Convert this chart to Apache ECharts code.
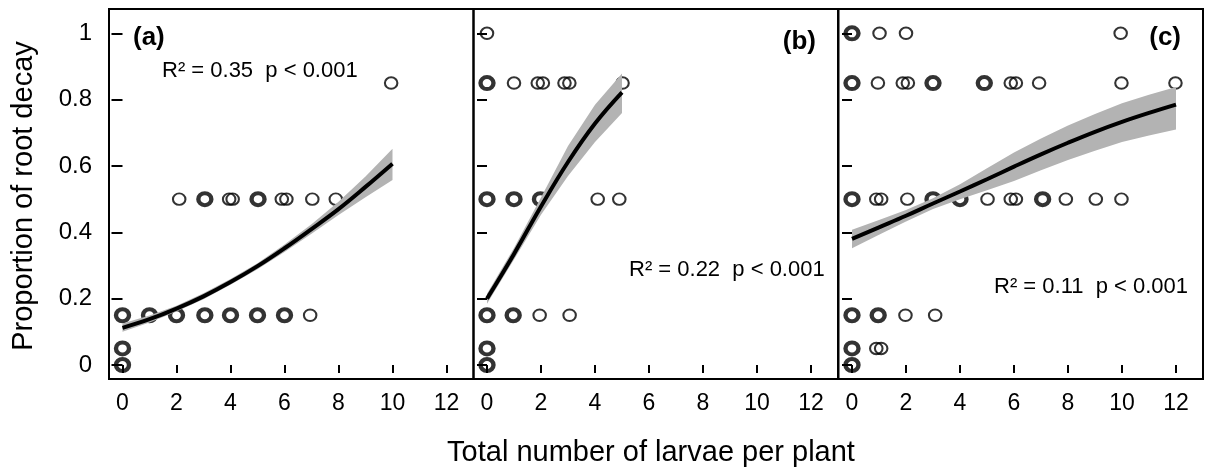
<!DOCTYPE html>
<html>
<head>
<meta charset="utf-8">
<script src="https://cdn.jsdelivr.net/npm/echarts@6/dist/echarts.min.js"></script>
<style>
  html, body { margin: 0; padding: 0; background: #fff; }
  #chart { width: 1207px; height: 473px; }
</style>
</head>
<body>
<div id="chart"></div>
<script>
// tick labels
var xTicks = [0, 2, 4, 6, 8, 10, 12];
var yTicks = [0, 0.2, 0.4, 0.6, 0.8, 1];
var yTickLabels = ['0', '0.2', '0.4', '0.6', '0.8', '1'];

// panel (a) observations: single circles and over-plotted (heavy) circles
var ptsA = [[2.1, 0.5], [3.95, 0.5], [4.08, 0.5], [5.9, 0.5], [6.07, 0.5], [7.03, 0.5], [7.9, 0.5],
  [6.95, 0.15], [9.95, 0.85]];
var ptsAHeavy = [[3.05, 0.5], [5.02, 0.5], [0, 0.15], [1, 0.15], [2, 0.15], [3.05, 0.15], [4, 0.15],
  [5, 0.15], [6, 0.15], [0, 0.05], [0, 0]];
// panel (a) fitted curve + confidence band
var fitXA = [0, 1, 2, 3, 4, 5, 6, 7, 8, 9, 10];
var fitA = [0.112, 0.138, 0.17, 0.207, 0.25, 0.298, 0.352, 0.41, 0.47, 0.537, 0.607];
var lowA = [0.10, 0.128, 0.161, 0.198, 0.242, 0.289, 0.341, 0.396, 0.452, 0.506, 0.558];
var upA = [0.125, 0.149, 0.179, 0.216, 0.259, 0.307, 0.363, 0.424, 0.492, 0.568, 0.652];

// panel (b)
var ptsB = [[0, 1], [1.0, 0.85], [1.88, 0.85], [2.07, 0.85], [2.87, 0.85], [3.05, 0.85], [5.02, 0.85],
  [4.1, 0.5], [4.9, 0.5], [1.95, 0.15], [3.06, 0.15]];
var ptsBHeavy = [[0, 0.85], [0, 0.5], [1.0, 0.5], [1.98, 0.5], [0, 0.15], [0.97, 0.15], [0, 0.05], [0, 0]];
var fitXB = [0, 1, 2, 3, 4, 5];
var fitB = [0.20, 0.335, 0.478, 0.612, 0.728, 0.822];
var lowB = [0.185, 0.318, 0.453, 0.57, 0.672, 0.76];
var upB = [0.215, 0.353, 0.505, 0.66, 0.785, 0.879];

// panel (c)
var ptsC = [[1.02, 1], [2.0, 1], [9.95, 1],
  [0.96, 0.85], [1.88, 0.85], [2.07, 0.85], [5.88, 0.85], [6.07, 0.85], [6.93, 0.85], [9.98, 0.85], [11.98, 0.85],
  [0.9, 0.5], [1.08, 0.5], [2.05, 0.5], [5.02, 0.5], [5.88, 0.5], [6.07, 0.5], [7.92, 0.5], [9.03, 0.5], [9.98, 0.5],
  [1.98, 0.15], [3.08, 0.15], [0.9, 0.05], [1.08, 0.05]];
var ptsCHeavy = [[0, 1], [0, 0.85], [3.0, 0.85], [4.9, 0.85], [0, 0.5], [3.0, 0.5], [4.0, 0.5], [7.06, 0.5],
  [0, 0.15], [0.97, 0.15], [0, 0.05], [0, 0]];
var fitXC = [0, 1, 2, 3, 4, 5, 6, 7, 8, 9, 10, 11, 12];
var fitC = [0.38, 0.415, 0.45, 0.487, 0.523, 0.56, 0.598, 0.635, 0.67, 0.703, 0.733, 0.76, 0.785];
var lowC = [0.352, 0.393, 0.433, 0.47, 0.50, 0.527, 0.555, 0.587, 0.618, 0.646, 0.672, 0.692, 0.71];
var upC = [0.408, 0.437, 0.467, 0.503, 0.545, 0.593, 0.641, 0.683, 0.722, 0.757, 0.789, 0.815, 0.838];

var FONT = 'Liberation Sans';
var BAND = '#b3b3b3';

var panels = [
  { left: 109, pts: ptsA, heavy: ptsAHeavy, fx: fitXA, fit: fitA, low: lowA, up: upA, labels: true },
  { left: 473.5, pts: ptsB, heavy: ptsBHeavy, fx: fitXB, fit: fitB, low: lowB, up: upB, labels: false },
  { left: 838.5, pts: ptsC, heavy: ptsCHeavy, fx: fitXC, fit: fitC, low: lowC, up: upC, labels: false }
];

// band polygon: upper edge left->right, lower edge right->left
function renderBand(params, api) {
  if (params.dataIndexInside !== 0) return null;
  var n = params.dataInsideLength, top = [], bot = [];
  for (var k = 0; k < n; k++) {
    var x = api.value(0, k);
    top.push(api.coord([x, api.value(2, k)]));
    bot.unshift(api.coord([x, api.value(1, k)]));
  }
  return {
    type: 'polygon',
    shape: { points: top.concat(bot) },
    style: { fill: BAND, stroke: null }
  };
}

var grid = [], xAxis = [], yAxis = [], series = [];

panels.forEach(function (p, i) {
  grid.push({
    left: p.left, top: 9, width: 364.5, height: 370,
    show: true, borderColor: '#000', borderWidth: 2, backgroundColor: 'transparent'
  });
  // x axes: one with outward ticks + labels, one with inward ticks
  xAxis.push({
    type: 'value', gridIndex: i, min: -0.5, max: 13,
    axisLine: { show: false }, splitLine: { show: false },
    axisTick: { show: true, length: 8, customValues: xTicks, lineStyle: { color: '#000', width: 2 } },
    axisLabel: { customValues: xTicks, margin: 13, color: '#000', fontSize: 23, fontFamily: FONT }
  });
  xAxis.push({
    type: 'value', gridIndex: i, min: -0.5, max: 13,
    axisLine: { show: false }, splitLine: { show: false },
    axisTick: { show: true, inside: true, length: 6, customValues: xTicks, lineStyle: { color: '#000', width: 2 } },
    axisLabel: { show: false }
  });
  yAxis.push({
    type: 'value', gridIndex: i, min: -0.0422, max: 1.0733,
    axisLine: { show: false }, splitLine: { show: false },
    axisTick: { show: p.labels, length: 11, customValues: yTicks, lineStyle: { color: '#000', width: 2 } },
    axisLabel: {
      show: p.labels, customValues: yTicks, margin: 17, color: '#000', fontSize: 24, fontFamily: FONT,
      formatter: function (v) { return yTickLabels[yTicks.indexOf(Math.round(v * 10) / 10)]; }
    }
  });
  yAxis.push({
    type: 'value', gridIndex: i, min: -0.0422, max: 1.0733,
    axisLine: { show: false }, splitLine: { show: false },
    axisTick: { show: true, inside: true, length: 10, customValues: yTicks, lineStyle: { color: '#000', width: 2 } },
    axisLabel: { show: false }
  });

  var xi = i * 2, yi = i * 2;
  series.push({
    type: 'scatter', xAxisIndex: xi, yAxisIndex: yi, z: 2,
    symbol: 'circle', symbolSize: [12.5, 11.5],
    itemStyle: { color: 'rgba(0,0,0,0)', borderColor: '#000', borderWidth: 2 },
    data: p.pts, silent: true
  });
  series.push({
    type: 'scatter', xAxisIndex: xi, yAxisIndex: yi, z: 2,
    symbol: 'circle', symbolSize: [13, 12],
    itemStyle: { color: 'rgba(0,0,0,0)', borderColor: '#000', borderWidth: 4.2 },
    data: p.heavy, silent: true
  });
  series.push({
    type: 'custom', xAxisIndex: xi, yAxisIndex: yi, z: 3,
    renderItem: renderBand, clip: true,
    data: p.fx.map(function (x, k) { return [x, p.low[k], p.up[k]]; }), silent: true
  });
  series.push({
    type: 'line', xAxisIndex: xi, yAxisIndex: yi, z: 4,
    smooth: 0.4, showSymbol: false,
    lineStyle: { color: '#000', width: 4 },
    data: p.fx.map(function (x, k) { return [x, p.fit[k]]; }), silent: true
  });
});

function txt(x, y, s, size, weight, align) {
  return {
    type: 'text', x: x, y: y, z: 10,
    style: {
      text: s, fill: '#000', fontSize: size, fontWeight: weight || 'normal', fontFamily: FONT,
      textAlign: align || 'left', textVerticalAlign: 'middle'
    }
  };
}

var graphic = [
  txt(133, 38, '(a)', 26, 'bold'),
  txt(816, 42, '(b)', 26, 'bold', 'right'),
  txt(1181, 38, '(c)', 26, 'bold', 'right'),
  txt(162, 71, 'R² = 0.35  p < 0.001', 22),
  txt(629, 270, 'R² = 0.22  p < 0.001', 22),
  txt(994, 287, 'R² = 0.11  p < 0.001', 22),
  txt(651, 453, 'Total number of larvae per plant', 29, 'normal', 'center'),
  {
    type: 'text', x: 24, y: 196, rotation: Math.PI / 2, z: 10,
    style: {
      text: 'Proportion of root decay', fill: '#000', fontSize: 29, fontFamily: FONT,
      textAlign: 'center', textVerticalAlign: 'middle'
    }
  }
];

var chart = echarts.init(document.getElementById('chart'), null, { renderer: 'canvas' });
chart.setOption({
  animation: false,
  backgroundColor: '#fff',
  grid: grid,
  xAxis: xAxis,
  yAxis: yAxis,
  series: series,
  graphic: graphic
});
</script>
</body>
</html>
